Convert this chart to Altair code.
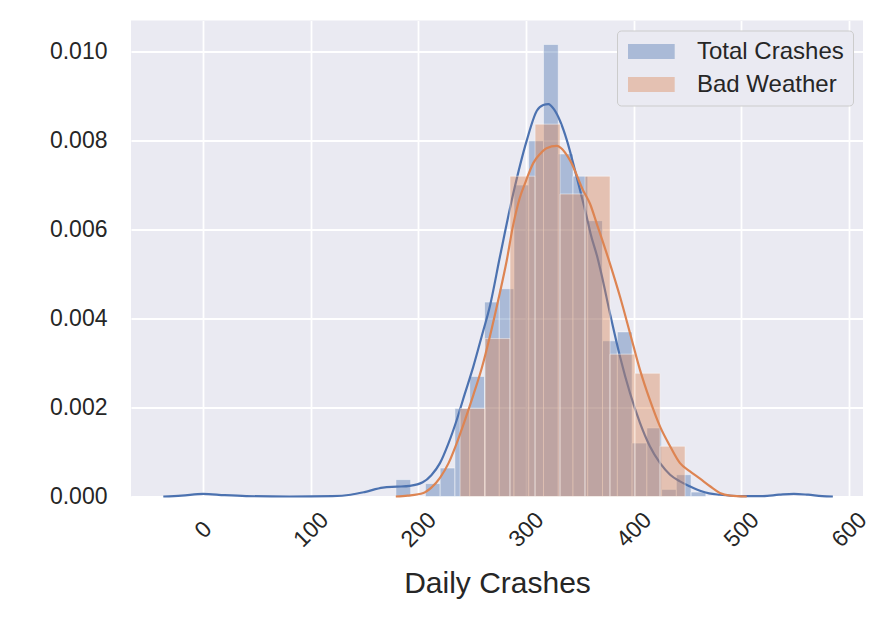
import altair as alt
import pandas as pd

# ---- data ----
series_names = ["Total Crashes", "Bad Weather"]
series_colors = ["#4C72B0", "#DD8452"]

# histogram bin edges (Daily Crashes) and densities
blue_edges = [179.1, 192.8, 206.5, 220.2, 233.9, 247.7, 261.4, 275.1, 288.8, 302.5, 316.2,
              329.9, 343.6, 357.3, 371.0, 384.8, 398.5, 412.2, 425.9, 439.6, 453.3, 467.0]
blue_density = [0.00038, 0.0, 0.00029, 0.00064, 0.00198, 0.0027, 0.00437, 0.00467, 0.0070,
                0.0080, 0.01016, 0.0077, 0.0072, 0.0062, 0.0035, 0.0037, 0.0012, 0.00154,
                0.00016, 0.00049, 0.0001]

orange_edges = [238.7, 261.9, 285.1, 308.4, 331.6, 354.8, 378.0, 401.2, 424.5, 447.7]
orange_density = [0.00198, 0.00355, 0.0072, 0.00837, 0.0068, 0.0072, 0.0032, 0.00277, 0.00113]

# KDE curves
blue_kde_x = [-37, -20, 0, 20, 40, 80, 120, 137, 150, 167, 180, 192, 204, 212, 220, 228, 235.6,
              243, 251, 259, 266.6, 275.8, 288, 300.6, 310, 316, 320.7, 326, 331.6, 338, 344,
              350, 356.4, 360, 366, 370, 378, 387.3, 396.6, 405.9, 415, 424.5, 433.8, 443, 452,
              461.6, 470, 480, 499, 520, 535, 548.7, 562, 575, 585]
blue_kde_y = [0.0, 0.00002, 0.00006, 0.00003, 0.00001, 0.0, 0.00001, 0.00004, 0.0001, 0.0002,
              0.00022, 0.00024, 0.00032, 0.00048, 0.00075, 0.0012, 0.00172, 0.0023, 0.00292,
              0.00362, 0.0043, 0.0054, 0.0068, 0.0080, 0.00867, 0.0088, 0.00882, 0.0087, 0.00844,
              0.0080, 0.00747, 0.0069, 0.00628, 0.0059, 0.0054, 0.0050, 0.00411, 0.00314, 0.00232,
              0.00165, 0.00113, 0.00075, 0.00049, 0.00034, 0.00023, 0.00013, 0.00007, 0.00004,
              0.00001, 0.00001, 0.00004, 0.00006, 0.00004, 0.00001, 0.0]

orange_kde_x = [179, 190, 204.6, 212, 220, 228, 235.6, 243, 251, 259, 266.6, 274, 282, 288, 294,
                300, 306.8, 313, 319, 328.5, 341, 353, 359.4, 365.7, 378, 387.3, 396.6, 405.9,
                415, 424.5, 433.8, 443, 452, 461.6, 470.9, 480, 489.5, 505]
orange_kde_y = [0.0, 0.00002, 0.00008, 0.0002, 0.00042, 0.00075, 0.0012, 0.0017, 0.00228, 0.0029,
                0.00362, 0.0044, 0.0053, 0.0061, 0.0067, 0.0071, 0.0075, 0.0077, 0.00783,
                0.00788, 0.00755, 0.00688, 0.00658, 0.00613, 0.00523, 0.00449, 0.00367, 0.00284,
                0.00217, 0.00157, 0.00113, 0.00075, 0.00057, 0.0004, 0.00023, 0.00008, 0.00002,
                0.0]

x_ticks = [0, 100, 200, 300, 400, 500, 600]
y_ticks = [0.0, 0.002, 0.004, 0.006, 0.008, 0.010]

# ---- tables ----
def bars(name, edges, dens):
    return pd.DataFrame({
        "series": name,
        "x0": edges[:-1],
        "x1": edges[1:],
        "density": dens,
        "base": 0.0,
    })

def curve(name, xs, ys):
    return pd.DataFrame({"series": name, "x": xs, "y": ys, "idx": range(len(xs))})

blue_bars = bars(series_names[0], blue_edges, blue_density)
orange_bars = bars(series_names[1], orange_edges, orange_density)
blue_line = curve(series_names[0], blue_kde_x, blue_kde_y)
orange_line = curve(series_names[1], orange_kde_x, orange_kde_y)

FONT = "Liberation Sans"
TXT = "#262626"

xscale = alt.Scale(domain=[-67, 613], nice=False, zero=False)
yscale = alt.Scale(domain=[0, 0.0107], nice=False)

xaxis = alt.Axis(values=x_ticks, title="Daily Crashes", labelAngle=-45, labelAlign="center",
                 labelBaseline="middle", labelPadding=33, labelFontSize=23, labelFont=FONT,
                 labelColor=TXT, titleFontSize=30, titleFont=FONT, titleColor=TXT,
                 titleFontWeight="normal", titleBaseline="alphabetic", titleY=96,
                 grid=True, gridColor="white", gridWidth=1.8, domain=False, ticks=False,
                 labelFlush=False, labelOverlap=False)
yaxis = alt.Axis(values=y_ticks, format=".3f", title=None, labelFontSize=23, labelFont=FONT,
                 labelColor=TXT, labelPadding=24, grid=True, gridColor="white", gridWidth=1.8,
                 domain=False, ticks=False)

color = alt.Color("series:N",
                  scale=alt.Scale(domain=series_names, range=series_colors),
                  legend=alt.Legend(title=None, orient="top-right", offset=10))

def bar_layer(df):
    return alt.Chart(df).mark_rect(fillOpacity=0.4, stroke="white", strokeWidth=1,
                                   strokeOpacity=0.45).encode(
        x=alt.X("x0:Q", scale=xscale, axis=xaxis),
        x2="x1:Q",
        y=alt.Y("density:Q", scale=yscale, axis=yaxis),
        y2="base:Q",
        color=color,
    )

def line_layer(df, col):
    return alt.Chart(df).mark_line(color=col, strokeWidth=2.2, interpolate="monotone").encode(
        x=alt.X("x:Q", scale=xscale),
        y=alt.Y("y:Q", scale=yscale),
        order="idx:Q",
    )

chart = alt.layer(
    bar_layer(blue_bars),
    line_layer(blue_line, series_colors[0]),
    bar_layer(orange_bars),
    line_layer(orange_line, series_colors[1]),
).properties(
    width=732, height=476,
    autosize=alt.AutoSizeParams(type="none"),
    padding={"left": 123, "top": 12.5, "right": 20, "bottom": 110},
).configure(
    background="white",
).configure_view(
    fill="#EAEAF2", strokeWidth=0,
).configure_legend(
    padding=9, rowPadding=9, labelFontSize=24, labelFont=FONT, labelColor=TXT,
    labelLimit=400, labelOffset=47, fillColor="#EAEAF2", strokeColor="#CCCCCC",
    cornerRadius=4, symbolType="M-1,-0.75H3.67V0.75H-1Z", symbolSize=400,
    symbolOpacity=0.4, symbolStrokeWidth=0,
)

chart.save("out.html", embed_options={"renderer": "svg", "actions": False})
